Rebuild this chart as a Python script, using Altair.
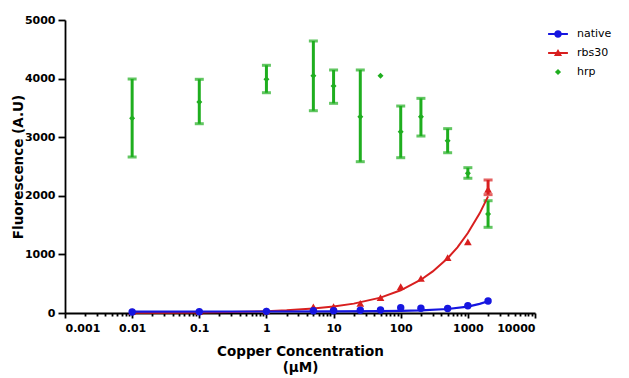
import altair as alt
import pandas as pd

# ---- data ----
conc = [0.01, 0.1, 1, 5, 10, 25, 50, 100, 200, 500, 1000, 2000]
native = [18, 22, 28, 38, 40, 48, 50, 90, 80, 78, 125, 205]
rbs30 = [25, 25, 38, 105, 110, 165, 262, 449, 592, 944, 1215, 2110]
hrp = [3322, 3601, 3988, 4050, 3874, 3350, 4050, 3094, 3350, 2940, 2384, 1689]
hrp_low = [2662, 3230, 3759, 3452, 3578, 2582, None, 2650, 3020, 2735, 2299, 1462]
hrp_high = [3993, 3988, 4227, 4642, 4147, 4147, None, 3532, 3663, 3146, 2480, 1916]

rbs30_err_conc = [2000]
rbs30_low = [2020]
rbs30_high = [2270]

# fitted curves
rbs30_fit_conc = [0.01, 0.03, 0.1, 0.3, 1, 2, 5, 10, 20, 50, 100, 200, 300, 500, 700, 1000, 1500, 2000]
rbs30_fit = [3, 5, 9, 17, 31, 45, 75, 110, 160, 262, 388, 568, 710, 935, 1120, 1365, 1700, 1990]
native_fit_conc = [0.01, 1, 10, 50, 100, 200, 500, 1000, 1500, 2000]
native_fit = [25, 26, 28, 32, 36, 44, 68, 110, 155, 200]

series_names = ["native", "rbs30", "hrp"]
x_ticks = [m * 10 ** e for e in range(-3, 4) for m in range(1, 10)] + [10000]
y_ticks = [0, 1000, 2000, 3000, 4000, 5000]

BLUE = "#1616e0"
RED = "#d81f1f"
GREEN = "#1fae1f"

# ---- tables ----
df = pd.DataFrame({"conc": conc, "native": native, "rbs30": rbs30, "hrp": hrp,
                   "lo": hrp_low, "hi": hrp_high})
df_err = df.dropna(subset=["lo", "hi"])
df_rerr = pd.DataFrame({"conc": rbs30_err_conc, "lo": rbs30_low, "hi": rbs30_high})
df_rfit = pd.DataFrame({"conc": rbs30_fit_conc, "val": rbs30_fit})
df_nfit = pd.DataFrame({"conc": native_fit_conc, "val": native_fit})
# legend-only rows: y left empty so no mark is drawn
df_leg = pd.DataFrame({"series": series_names, "conc": [1, 1, 1], "val": [None, None, None]})

major_test = "abs(log(datum.value)/LN10 - round(log(datum.value)/LN10)) < 0.001"

xscale = alt.Scale(type="log", domain=[0.001, 10000], nice=False)
yscale = alt.Scale(domain=[0, 5000], nice=False)

xaxis = alt.Axis(
    values=x_ticks,
    labelExpr=f"{major_test} ? format(datum.value, '~g') : ''",
    tickSize={"condition": {"test": major_test, "value": 5}, "value": 3},
    labelOverlap=False,
    labelPadding=4,
    title=["Copper Concentration", "(µM)"],
    titlePadding=11,
    titleLineHeight=16,
    grid=False,
)
yaxis = alt.Axis(
    values=y_ticks,
    format="d",
    tickSize=7,
    labelPadding=3,
    title="Fluorescence (A.U)",
    titleX=-40,
    titleY=146.5,
    grid=False,
)

X = alt.X("conc:Q", scale=xscale, axis=xaxis)
Xn = alt.X("conc:Q", scale=xscale)

base_err = alt.Chart(df_err)
hrp_rule = base_err.mark_rule(color=GREEN, strokeWidth=3).encode(
    x=X, y=alt.Y("lo:Q", scale=yscale, axis=yaxis), y2="hi:Q")
hrp_cap_lo = base_err.mark_tick(color=GREEN, orient="horizontal", size=9, thickness=3).encode(
    x=Xn, y=alt.Y("lo:Q", scale=yscale))
hrp_cap_hi = base_err.mark_tick(color=GREEN, orient="horizontal", size=9, thickness=3).encode(
    x=Xn, y=alt.Y("hi:Q", scale=yscale))
hrp_pts = alt.Chart(df).mark_point(shape="diamond", filled=True, color=GREEN, size=36, opacity=1).encode(
    x=Xn, y=alt.Y("hrp:Q", scale=yscale))

r_fit = alt.Chart(df_rfit).mark_line(color=RED, strokeWidth=2).encode(
    x=Xn, y=alt.Y("val:Q", scale=yscale))
r_rule = alt.Chart(df_rerr).mark_rule(color=RED, strokeWidth=3).encode(
    x=Xn, y=alt.Y("lo:Q", scale=yscale), y2="hi:Q")
r_cap_lo = alt.Chart(df_rerr).mark_tick(color=RED, orient="horizontal", size=9, thickness=3).encode(
    x=Xn, y=alt.Y("lo:Q", scale=yscale))
r_cap_hi = alt.Chart(df_rerr).mark_tick(color=RED, orient="horizontal", size=9, thickness=3).encode(
    x=Xn, y=alt.Y("hi:Q", scale=yscale))
r_pts = alt.Chart(df).mark_point(shape="triangle-up", filled=True, color=RED, size=60, opacity=1).encode(
    x=Xn, y=alt.Y("rbs30:Q", scale=yscale))

n_fit = alt.Chart(df_nfit).mark_line(color=BLUE, strokeWidth=2.2).encode(
    x=Xn, y=alt.Y("val:Q", scale=yscale))
n_pts = alt.Chart(df).mark_point(shape="circle", filled=True, color=BLUE, size=55, opacity=1).encode(
    x=Xn, y=alt.Y("native:Q", scale=yscale))

# legend-only layer with custom symbols (line + marker)
sym_native = ("M-1.1,-0.11H1.1V0.11H-1.1Z "
              "M0.42,0A0.42,0.42 0 1,1 -0.42,0A0.42,0.42 0 1,1 0.42,0Z")
sym_rbs = ("M-1.1,-0.11H1.1V0.11H-1.1Z "
           "M0,-0.45L0.45,0.32L-0.45,0.32Z")
sym_hrp = "M0,-0.34L0.34,0L0,0.34L-0.34,0Z"

leg_props = dict(
    orient="none", legendX=484, legendY=5, title=None, padding=0,
    symbolSize=324, symbolStrokeWidth=0, symbolOpacity=1, rowPadding=5,
    labelOffset=10, labelFont="DejaVu Sans", labelFontSize=11,
    labelColor="black", labelFontWeight="normal",
)
legend_layer = alt.Chart(df_leg).mark_point(filled=True, opacity=1).encode(
    x=Xn,
    y=alt.Y("val:Q", scale=yscale),
    color=alt.Color("series:N", scale=alt.Scale(domain=series_names, range=[BLUE, RED, GREEN]),
                    legend=alt.Legend(**leg_props)),
    shape=alt.Shape("series:N", scale=alt.Scale(domain=series_names, range=[sym_native, sym_rbs, sym_hrp]),
                    legend=alt.Legend(**leg_props)),
)

chart = alt.layer(
    hrp_rule, hrp_cap_lo, hrp_cap_hi, hrp_pts,
    r_fit, r_rule, r_cap_lo, r_cap_hi, r_pts,
    n_fit, n_pts, legend_layer,
).properties(
    width=470, height=293,
    autosize=alt.AutoSizeParams(type="none"),
    padding={"left": 57, "top": 12, "right": 86, "bottom": 65},
    background="white",
).configure_view(
    stroke=None
).configure_axis(
    domainColor="black", domainWidth=1.8, tickColor="black", tickWidth=1.8,
    labelFont="DejaVu Sans", labelFontWeight="bold", labelFontSize=11, labelColor="black",
    titleFont="DejaVu Sans", titleFontWeight="bold", titleFontSize=13.5, titleColor="black",
)

chart.save("out.html", embed_options={"renderer": "svg", "actions": False})
